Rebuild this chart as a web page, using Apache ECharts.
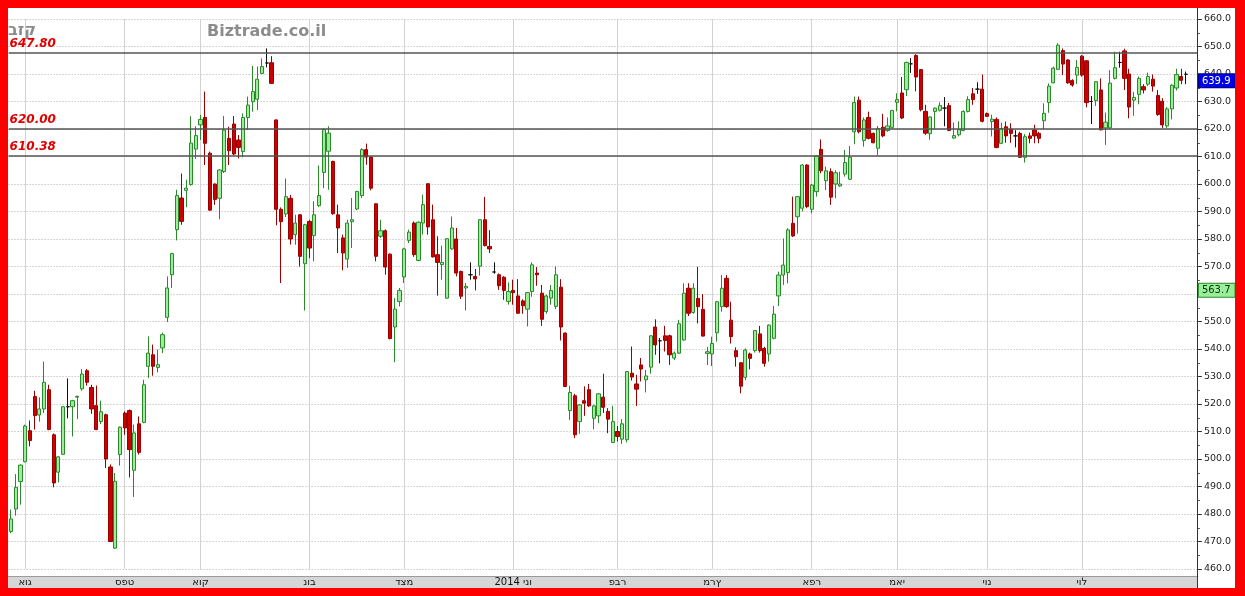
<!DOCTYPE html>
<html><head><meta charset="utf-8">
<script src="https://cdn.jsdelivr.net/npm/echarts/dist/echarts.min.js"></script>
<style>html,body{margin:0;padding:0;background:#fff}#c{width:1245px;height:596px}</style>
</head><body><div id="c"></div>
<script>
// Daily OHLC, Bezeq (בזק), Aug 2013 - Jul 2014
const open  = [473.6,481.8,491.8,499,510.3,522.7,516,518.2,525.2,508.8,495.2,501.7,519,519,522.5,525.5,532.1,526,519.4,513.6,
516.1,497.1,467.6,501.6,516.7,517.6,495.9,512.8,513.3,533.7,537.9,533.3,540.4,551.5,567,583.4,594.9,597.7,599.8,612.7,
621.5,624.2,611.2,600,594.8,604.5,616.6,621.8,616,611.8,624.2,629.9,630.8,640.2,644,644.1,623.3,590.8,589.1,594.8,
581.6,588.8,571,586.4,581.2,592.1,604.2,611.9,608.2,588.8,580.4,572.7,586.3,590.9,595.8,612.5,609.8,592.8,581,583,
574.5,548,557.3,566.2,579.5,585.8,572.2,585.8,600.1,587,574.3,570.7,558.5,576.4,580,568.2,562.2,567,566.4,570.1,
587,577.3,568,567,566.1,557.3,561.3,559.3,557.5,554.5,560.9,567.6,560.3,553.6,558.5,555.5,562.5,545.8,517.6,523,
513.6,521.2,525.2,514.8,515.7,522.5,517.3,506,510,507.2,507,531.2,527.3,534.2,528.8,533.4,548,543,544.8,544.8,
536.7,538.5,543.3,562.1,553.3,558.4,554.4,538.4,538.2,545.9,555.4,565.7,550.5,539.4,535,529.7,538.2,539.4,545.5,540.2,
538.2,543.9,559.3,566.9,567.8,585.7,588.1,591.2,606.9,590.8,597.2,612.6,601.2,604.5,600,599.3,603.6,601.7,619,630.5,
615.8,624.2,618.4,613,620.6,619.4,620.6,629.7,633.1,634.3,643.7,646.7,641.6,626.4,618.3,626.4,626.8,627.6,628.5,616.7,
617.9,619.5,626.4,632.8,634.5,634.5,625.6,622.7,623.5,614.8,620.8,619.9,617.5,618.4,609.7,617.5,619.6,618.4,623,629.6,
636.8,641.7,648.5,645.1,637.6,639.6,646.5,644.8,630,630.3,634.2,620.4,620.4,638.4,644.2,648.4,640,630.5,632.6,635.4,
636.3,638.1,632.2,630.1,621.1,627.3,634.9,639.1,639.9];
const close = [478.2,489.7,497.8,512,506.7,515.8,518.2,527.9,510.7,491.3,500.8,519,519,521.2,522.8,530.9,527.9,518.2,510.7,517.2,
500,470,491.9,511.6,511.3,503.4,509.5,502.4,527,538.5,533.7,534.3,545.2,562.2,574.7,595.8,586.4,598.5,614.9,617.6,
623.5,614.8,590.5,594.4,605.1,619.6,612.1,610.9,613.3,624.2,628.7,633.6,638.1,642.7,644,636.6,590.8,586.3,595.4,580,
585.8,573.7,585.2,576.7,588.8,595.8,619.8,618.5,589.2,584,574.9,585.8,587,597.3,612.5,609.8,598.5,573.7,583,569.8,
543.8,554.5,561.3,576.4,582.5,574.3,586.1,592.5,584.4,573.5,571.5,571.5,580.1,584,567.6,559.2,562.8,567,565.5,587,
577.6,576.4,568,563,561.3,560.9,560.5,553,555.7,560.5,570.6,567,550.8,559.3,561.3,567,548,526.4,524.2,508.8,
519.7,520.3,519.3,519.3,523.7,518.8,514.5,513.6,508.2,512.8,531.8,529.8,525.4,532.7,530.2,544.8,541.5,543,543.1,537.9,
538.5,549.2,560.3,553,562.1,555.4,544.7,539,542,557.2,562.1,555.4,544.5,537.2,526.5,539.6,536.6,546.7,539.4,534.8,
548.7,552.7,566.9,570.5,583.3,581.1,595.4,606.9,591.8,599.6,610.2,604.8,604.8,595.2,604.1,600,607.8,609.7,629.6,619,
623.3,616.6,615,620.2,617.5,621.1,626.7,630.7,624,644.2,643.7,638.9,627,618.5,624.4,627.6,628.5,627.6,619.5,617.6,
619.8,626.4,630.7,630.7,634.5,622.8,624.6,623.6,613.3,620.2,617.5,618.4,617.5,609.7,617.2,616.6,617.5,616.6,625.7,635.6,
642.1,650.5,643.6,636.8,636,642.4,639.6,629.6,630,637.2,619.7,622.5,636.7,642.3,644.2,638.4,628,631.5,638.4,634.2,
639.1,635.6,625.3,621.5,627.3,635.9,639.8,637.7,639.9];
const low   = [473,479.4,483.4,498.8,504.6,510.7,513.6,516.7,510.5,489.7,491.5,501.5,514.8,508.2,514.5,524.8,526.7,516.4,510.5,512.7,
496.7,469.9,467.3,497.6,508.8,493.3,486.2,501.6,513,529.5,530.3,531.5,538.5,549.8,562.2,579.5,585.2,591.6,599.4,609.1,
616,606.9,590.3,592.4,587.2,604,606.9,610.5,609.3,609.7,619.6,626.3,626.9,640,642.4,636.4,585,564,588,578,
577.9,570,554,573,571.9,591.6,598.5,597.9,588.8,574.9,568.6,569.5,576.7,590.5,594.9,607,597.7,571.9,580.4,567,
543.5,535.2,555.5,564,578.5,573.5,571.9,581.6,581.6,573.3,559.4,565.2,558.3,576,566.4,558.2,554,565.2,561.3,566.7,
577.3,574.9,567.4,561.5,557.9,556.1,556.1,552.8,552.8,548.2,559,563,548.4,552.8,556.1,554.5,543.1,526.2,514.2,507.6,
509.2,515.7,519,510.8,513,516.7,509.4,505.8,506.4,505.5,506,528.5,519.3,528.2,524.2,531,537.9,534.8,539.1,534.2,
536,538.2,543,552,552.8,549.3,544.5,534.2,533.8,542.7,553.6,555,542,533.6,523.9,528.7,532.6,538.7,538.7,533.6,
535.4,543.5,555.6,563.3,563.9,580.8,582,590,591.2,589.3,595.4,603.9,597.8,592.4,594.8,599,602.7,601.5,614.5,618.4,
613.6,616.2,614.8,610.5,617,619,620.2,626.4,623.6,632,640.4,633.7,626.4,617.9,616.1,619.8,626.4,621,619.2,616.5,
617.3,619.2,626,628.8,632.8,622.4,624.4,617.3,613,614.5,615,615,613.3,609.5,607.8,614.8,614.8,614.8,619.9,625.9,
636.6,641.5,639.6,636.4,635.4,636.4,639,627.9,621.8,628.4,619.5,614.2,620,638,642.3,634.2,623.9,624.8,629,632.9,
635.6,633.6,624.8,620.4,620.4,623.5,634,636.3,636.3];
const high  = [481.6,494.5,498,512.5,514,524.8,522.4,535.4,527,509.3,501,519.2,529.3,521.5,523,532.7,532.7,527,526.7,521.2,
516.5,498,494.9,511.8,517.3,518,512.5,515.5,528.8,544.6,541.6,539.8,546,566.4,575,597.9,603.8,601.6,624.6,621,
625.1,633.6,611.8,600.2,605.3,624.7,620.8,624.7,617.8,625.7,631.8,642.9,642.7,645.7,649.3,646.5,623.5,591.5,602,596,
588.8,589,585.5,587,593.7,606.7,620.2,621,608.5,592.5,581.6,587,594.9,597.5,613,614.7,610,593,587,583.5,
574.8,558.5,562.2,576.8,583.4,586.4,586.4,596.1,600.3,592.5,581,577.6,580.3,588.2,584,568.5,564,571.5,569.1,587.2,
595.3,583.2,571.5,567.5,566.5,564.2,565.2,565.4,558.1,560.7,571.5,569.8,563.3,559.7,563.3,570,565.4,546,526.6,523.7,
520,526.4,527.3,519.7,524,531,518.5,519.3,512,514.5,532,540.9,530.6,536.7,532.4,545,550.8,544,548.4,545.2,
539.1,550.6,563.9,563.9,563.9,569.9,560,540.8,544.5,557.5,566.9,566.9,557.2,540.6,535.2,540.2,538.7,546.9,548.4,540.8,
548.9,555.6,568.1,580.2,583.9,595.4,595.6,607.2,607.2,600,610.5,616.2,606.3,605.7,605,604.5,612.4,613.8,631.8,631.8,
624.2,626.3,618.7,621.1,625.5,624.2,627,633,638.9,644.5,645.8,647.2,641.8,628.8,624.6,627.8,629.7,631.6,629.5,622.4,
622.8,626.8,631.9,634.9,637,639.8,626,625.2,624.2,622.3,622.7,622.1,619.6,619,618.2,618.7,621.5,619,629.3,636.6,
642.7,651.2,649.3,645.4,638.1,645.1,646.9,645,632,637.4,638.4,626,641.4,648.1,648.1,649.2,641.9,633.5,639.1,636.3,
640.5,639.8,634.2,631.2,628,636.3,641.9,641.9,640.9];

const categories = open.map((_, i) => String(i + 1));
const monthStarts = [3, 24, 40, 63, 83, 106, 128, 148, 169, 187, 206, 226];
const monthLabels = ['אוג', 'ספט', 'אוק', 'נוב', 'דצמ', '2014 ינו', 'פבר', 'מרץ', 'אפר', 'מאי', 'יונ', 'יול'];
const stockName = 'בזק';
const siteName = 'Biztrade.co.il';
const levels = [647.80, 620.00, 610.38];
const lastPrice = 639.9;
const markerValue = 563.7;
const yMin = 460, yMax = 660, yStep = 10;

// the reference draws Hebrew glyphs in left-to-right order
const ltr = (s) => '\u202D' + s + '\u202C';
const candles = categories.map((_, i) => [open[i], close[i], low[i], high[i]]);
const isMonth = (i) => monthStarts.indexOf(i) >= 0;

const chart = echarts.init(document.getElementById('c'), null, {renderer: 'canvas'});
const FONT = 'DejaVu Sans';

const boxLabel = (val, bg, border, fg) => ({
  yAxis: val,
  lineStyle: {color: 'rgba(0,0,0,0)', width: 0},
  label: {show: true, position: 'end', formatter: val.toFixed(1), color: fg, backgroundColor: bg,
    borderColor: border, borderWidth: 1, padding: [2, 4, 1, 3], fontSize: 10, fontStyle: 'normal',
    fontWeight: 'normal', fontFamily: FONT, distance: 1, verticalAlign: 'top'}
});
const markData = levels.map(v => ({yAxis: v, label: {formatter: v.toFixed(2)}}));
markData.push(boxLabel(lastPrice, '#0000e6', '#00007a', '#ffffff'));
markData.push(boxLabel(markerValue, '#9af09a', '#2a8a2a', '#0a300a'));

chart.setOption({
  animation: false,
  backgroundColor: '#ffffff',
  textStyle: {fontFamily: FONT},
  grid: {left: 8.6, right: 47.1, top: 19, bottom: 27},
  xAxis: {
    type: 'category',
    data: categories,
    max: categories.length + 1,
    boundaryGap: true,
    offset: 7,
    axisLine: {show: true, lineStyle: {color: '#9a9a9a'}},
    axisTick: {show: false},
    axisLabel: {
      interval: (i) => isMonth(i),
      formatter: (v, i) => { const k = monthStarts.indexOf(i); return k >= 0 ? ltr(monthLabels[k]) : ''; },
      margin: 1, fontSize: 10, color: '#111', fontFamily: FONT
    },
    splitLine: {show: true, interval: (i) => isMonth(i), alignWithLabel: true,
      lineStyle: {color: '#d2d2d2', width: 1}}
  },
  yAxis: {
    type: 'value',
    position: 'right',
    min: yMin, max: yMax, interval: yStep,
    axisLine: {show: false},
    axisTick: {show: true, length: 4, lineStyle: {color: '#333'}},
    minorTick: {show: true, splitNumber: 2, length: 2, lineStyle: {color: '#555'}},
    axisLabel: {formatter: (v) => v.toFixed(1), margin: 6, fontSize: 9.5, color: '#222', fontFamily: FONT},
    splitLine: {show: true, lineStyle: {color: '#b0b0b0', type: [1, 2], width: 1}}
  },
  series: [{
    type: 'candlestick',
    data: candles,
    barWidth: '78%',
    itemStyle: {
      color: '#9bec9b', color0: '#cc0000',
      borderColor: '#2a8a2a', borderColor0: '#9a0000',
      borderColorDoji: '#111111', borderWidth: 1
    },
    markLine: {
      silent: true,
      symbol: 'none',
      lineStyle: {color: '#555555', width: 1.5, type: 'solid'},
      label: {position: 'insideStartTop', distance: [1, 3], color: '#e00000', fontStyle: 'italic',
        fontWeight: 'bold', fontSize: 12, fontFamily: FONT},
      data: markData
    }
  }],
  graphic: [
    {type: 'rect', z: -1, shape: {x: 8, y: 576, width: 1190, height: 12}, style: {fill: '#d6d6d6'}},
    {type: 'line', z: 10, shape: {x1: 1197.5, y1: 8, x2: 1197.5, y2: 588}, style: {stroke: '#333', lineWidth: 1}},
    {type: 'text', z: 5, left: 8, top: 23, style: {text: ltr(stockName), fill: '#8c8c8c', font: 'bold 16px "DejaVu Sans"'}},
    {type: 'text', z: 5, left: 207, top: 24, style: {text: siteName, fill: '#8c8c8c', font: 'bold 16px "DejaVu Sans"'}},
    {type: 'rect', z: 100, shape: {x: 0, y: 0, width: 1245, height: 8}, style: {fill: '#ff0000'}},
    {type: 'rect', z: 100, shape: {x: 0, y: 588, width: 1245, height: 8}, style: {fill: '#ff0000'}},
    {type: 'rect', z: 100, shape: {x: 0, y: 0, width: 8, height: 596}, style: {fill: '#ff0000'}},
    {type: 'rect', z: 100, shape: {x: 1235, y: 0, width: 10, height: 596}, style: {fill: '#ff0000'}}
  ]
});
</script></body></html>
